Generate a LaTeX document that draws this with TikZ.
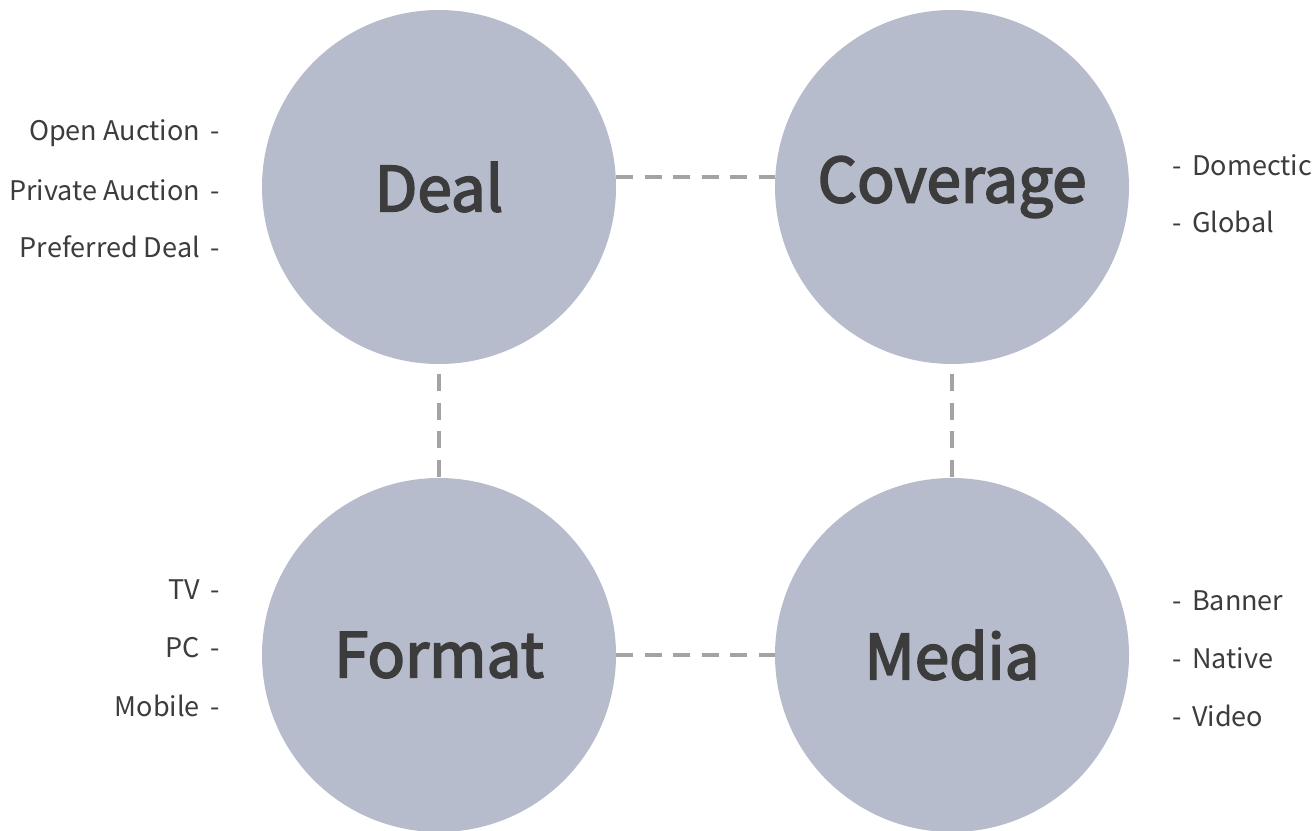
\documentclass[tikz,border=0pt]{standalone}
\usepackage{fontspec}
\setmainfont{Noto Sans CJK KR}
\newfontfamily\titlefont[FakeBold=2.8]{Noto Sans CJK KR}
\usetikzlibrary{calc}
\definecolor{circ}{HTML}{B7BCCD}
\definecolor{txt}{HTML}{3C3C3C}
\definecolor{dsh}{HTML}{A3A3A3}
\begin{document}
\begin{tikzpicture}[x=1pt,y=-1pt,
  bigc/.style={circle,fill=circ,minimum size=354pt,inner sep=0pt,text=txt,font=\fontsize{62}{70}\titlefont},
  side/.style={text=txt,font=\fontsize{27}{30}\selectfont,inner sep=0pt},
  conn/.style={draw=dsh,line width=4pt,dash pattern=on 17pt off 11.5pt}]
\useasboundingbox (0,0) rectangle (1314,830);
\node[bigc] (deal) at (439,187) {\raisebox{-6pt}{Deal}};
\node[bigc] (cov) at (952,187) {\raisebox{-6pt}{Coverage}};
\node[bigc] (fmt) at (439,655) {\raisebox{-6pt}{Format}};
\node[bigc] (med) at (952,655) {\raisebox{-6pt}{Media}};
\draw[conn] ([yshift=10pt]deal.east) -- ([yshift=10pt]cov.west);
\draw[conn] ([yshift=0pt]fmt.east) -- ([yshift=0pt]med.west);
\draw[conn] ([yshift=-10pt]deal.south) -- (fmt.north);
\draw[conn] ([yshift=-10pt]cov.south) -- (med.north);
\node[side,anchor=east] (d1) at (220,133) {Open Auction \,-};
\node[side,anchor=east] (d2) at (220,190) {Private Auction \,-};
\node[side,anchor=east] (d3) at (220,247) {Preferred Deal \,-};
\node[side,anchor=west] (c1) at (1172,165) {-\, Domectic};
\node[side,anchor=west] (c2) at (1172,222) {-\, Global};
\node[side,anchor=east] (f1) at (220,590) {TV \,-};
\node[side,anchor=east] (f2) at (220,648) {PC \,-};
\node[side,anchor=east] (f3) at (220,706) {Mobile \,-};
\node[side,anchor=west] (m1) at (1172,601) {-\, Banner};
\node[side,anchor=west] (m2) at (1172,658) {-\, Native};
\node[side,anchor=west] (m3) at (1172,716) {-\, Video};
\end{tikzpicture}
\end{document}
